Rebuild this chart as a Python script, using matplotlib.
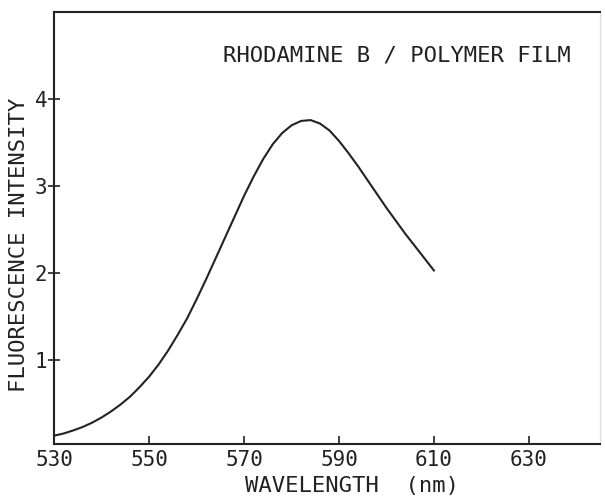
import numpy as np
import matplotlib
matplotlib.use("Agg")
import matplotlib.pyplot as plt

# emission spectrum (nm, arb. units)
wavelength = [530, 532, 534, 536, 538, 540, 542, 544, 546, 548,
              550, 552, 554, 556, 558, 560, 562, 564, 566, 568,
              570, 572, 574, 576, 578, 580, 582, 584, 586, 588,
              590, 592, 594, 596, 598, 600, 602, 604, 606, 608, 610]
intensity = [0.13, 0.155, 0.19, 0.23, 0.28, 0.34, 0.41, 0.49, 0.58, 0.69,
             0.81, 0.95, 1.11, 1.29, 1.48, 1.70, 1.93, 2.17, 2.41, 2.65,
             2.89, 3.11, 3.31, 3.48, 3.61, 3.70, 3.75, 3.76, 3.72, 3.64,
             3.52, 3.38, 3.23, 3.07, 2.91, 2.75, 2.60, 2.45, 2.31, 2.17, 2.03]

xticks = [530, 550, 570, 590, 610, 630]
yticks = [1, 2, 3, 4]
title = "RHODAMINE B / POLYMER FILM"
xlabel = "WAVELENGTH  (nm)"
ylabel = "FLUORESCENCE INTENSITY"

plt.rcParams["font.family"] = ["DejaVu Sans Mono"]
ink = "#222222"

fig = plt.figure(figsize=(6.05, 4.96), dpi=100)
ax = fig.add_axes([0.0898, 0.1042, 0.9019, 0.8710])

ax.plot(wavelength, intensity, color=ink, lw=1.5, solid_joinstyle="round")

ax.set_xlim(530, 645)
ax.set_ylim(0.03, 5.0)
ax.set_xticks(xticks)
ax.set_xticklabels([str(t) for t in xticks])
ax.set_yticks(yticks)
ax.set_yticklabels([str(t) for t in yticks])
ax.tick_params(axis="x", direction="in", length=6, width=1.2, colors=ink,
               labelsize=15, pad=4)
ax.tick_params(axis="y", direction="inout", length=8, width=1.2, colors=ink,
               labelsize=15, pad=1)

for side in ["left", "bottom", "top"]:
    ax.spines[side].set_linewidth(1.5)
    ax.spines[side].set_color(ink)
ax.spines["right"].set_color("#dddddd")
ax.spines["right"].set_linewidth(1.0)

ax.text(0.628, 0.899, title, transform=ax.transAxes, ha="center",
        va="center", fontsize=16, color=ink)

fig.text(352 / 605, 1 - 486 / 496, xlabel, ha="center", va="center",
         fontsize=16, color=ink)
fig.text(19 / 605, 1 - 245 / 496, ylabel, ha="center", va="center",
         rotation=90, fontsize=16, color=ink)

fig.savefig("out.png", dpi=100)
